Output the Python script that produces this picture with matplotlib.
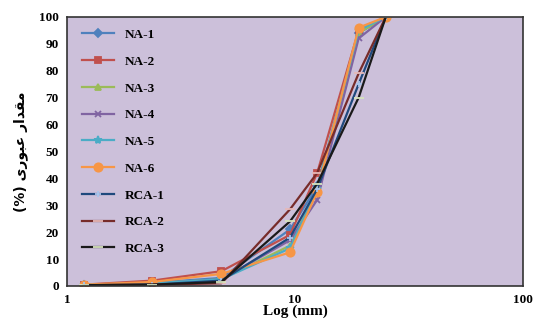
import matplotlib.pyplot as plt

# sieve sizes (mm) and percent passing
sizes = [1.18, 2.36, 4.75, 9.5, 12.5, 19, 25]
na1 = [0.5, 1.2, 3.0, 21, 37, 94, 100]
na2 = [0.5, 2.0, 5.5, 19, 42, 95, 100]
na3 = [0.5, 1.0, 2.5, 15, 36, 94, 100]
na4 = [0.5, 1.0, 2.5, 17, 32, 92, 100]
na5 = [0.5, 1.0, 2.5, 14, 36, 95, 100]
na6 = [0.5, 1.5, 4.5, 12.5, 35, 96, 100]
rca1 = [0.3, 0.5, 2.0, 18, 36, 75, 100]
rca2 = [0.3, 0.5, 1.0, 28.5, 42, 79, 100]
rca3 = [0.3, 0.5, 1.5, 24, 38, 70, 100]

labels = ['NA-1', 'NA-2', 'NA-3', 'NA-4', 'NA-5', 'NA-6', 'RCA-1', 'RCA-2', 'RCA-3']
series = [na1, na2, na3, na4, na5, na6, rca1, rca2, rca3]
colors = ['#4F81BD', '#C0504D', '#9BBB59', '#8064A2', '#4BACC6', '#F79646',
          '#1F497D', '#772C2A', '#1A1A1A']
markers = ['D', 's', '^', 'x', '*', 'o', '+', '_', '_']
mcolors = ['#4F81BD', '#C0504D', '#9BBB59', '#8064A2', '#4BACC6', '#F79646',
           '#A9C4EB', '#E6B9B8', '#D7E4BD']
msizes = [4, 5, 5, 5, 6, 6, 5, 7, 7]

plt.rcParams['font.family'] = ['Liberation Serif', 'DejaVu Sans']

fig = plt.figure(figsize=(5.37, 3.25), dpi=100)
ax = fig.add_axes([0.125, 0.12, 0.849, 0.828])
ax.set_facecolor('#CCC0DA')

for y, lab, c, m, mc, ms in zip(series, labels, colors, markers, mcolors, msizes):
    ax.plot(sizes, y, color=c, lw=1.6, marker=m, ms=ms, mfc=mc, mec=mc,
            mew=1.3, label=lab)

ax.set_xscale('log')
ax.set_xlim(1, 100)
ax.set_ylim(0, 100)
ax.set_yticks(range(0, 101, 10))
ax.set_xticks([1, 10, 100])
ax.set_xticklabels(['1', '10', '100'])
ax.minorticks_off()
ax.tick_params(length=0, labelsize=9.5, pad=6)
for t in ax.get_xticklabels() + ax.get_yticklabels():
    t.set_fontweight('bold')
for s in ax.spines.values():
    s.set_color('#333333')
    s.set_linewidth(1.2)

ax.set_xlabel('Log (mm)', fontsize=11, fontweight='bold', labelpad=-1)
# Persian label "مقدار عبوری (%)" in shaped presentation forms, visual order
ylab = '(%) \uFBFC\uFEAD\uFEEE\uFE92\uFECB \uFEAD\uFE8D\uFEAA\uFED8\uFEE3'
ax.set_ylabel(ylab, fontsize=10, fontweight='bold',
              family=['DejaVu Sans'], labelpad=8)

ax.legend(loc='upper left', frameon=False, prop={'weight': 'bold', 'size': 9.5},
          labelspacing=1.1, handlelength=2.4, borderaxespad=0.4,
          bbox_to_anchor=(0.01, 0.995))

fig.savefig('out.png', dpi=100)
